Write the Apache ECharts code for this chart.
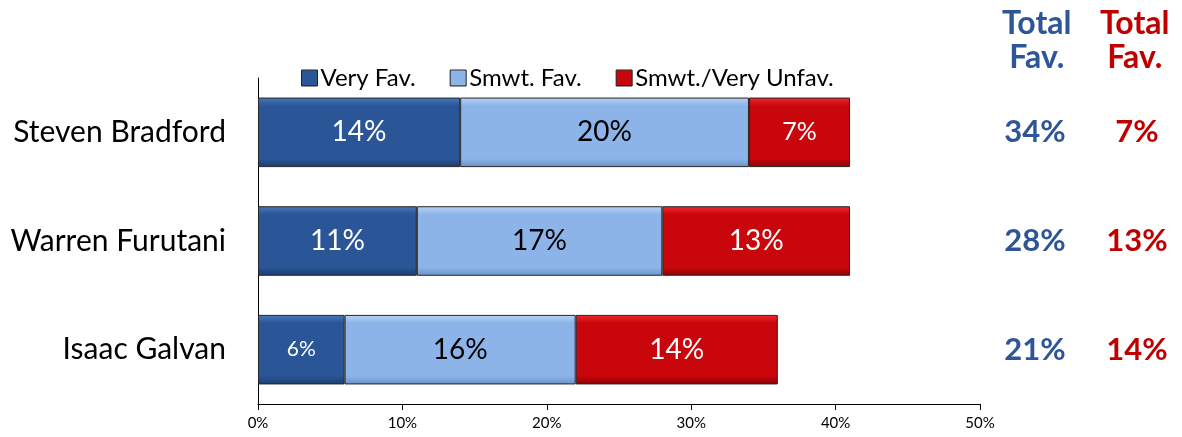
<!DOCTYPE html>
<html><head><meta charset="utf-8">
<script src="https://cdn.jsdelivr.net/npm/echarts@6/dist/echarts.min.js"></script>
<style>html,body{margin:0;padding:0;background:#fff}#c{width:1182px;height:437px}</style>
</head><body><div id="c"></div>
<script>
var categories = ['Steven Bradford', 'Warren Furutani', 'Isaac Galvan'];
var veryFav = [14, 11, 6];
var smwtFav = [20, 17, 16];
var unfav = [7, 13, 14];
var totalFav = [34, 28, 21];
var totalUnfav = [7, 13, 14];
var xTicks = [0, 10, 20, 30, 40, 50];
var seriesNames = ['Very Fav.', 'Smwt. Fav.', 'Smwt./Very Unfav.'];

var FONT = 'Lato';
function grad(top, mid, bot) {
  return new echarts.graphic.LinearGradient(0, 0, 0, 1, [
    {offset: 0, color: top}, {offset: 0.12, color: mid},
    {offset: 0.88, color: mid}, {offset: 1, color: bot}]);
}
function labelSize(v) { return v < 7 ? 21 : (v < 10 ? 25 : 28); }
function mkSeries(name, vals, fill, labelColor) {
  return {
    name: name, type: 'bar', stack: 'a', barWidth: '64%',
    itemStyle: {color: fill, borderColor: '#262626', borderWidth: 1},
    label: {show: true, position: 'inside', color: labelColor, fontFamily: FONT,
      formatter: function (p) { return p.value + '%'; },
      fontSize: 28},
    data: vals.map(function (v) {
      return {value: v, label: {fontSize: labelSize(v)}};
    })
  };
}
var chart = echarts.init(document.getElementById('c'));
chart.setOption({
  animation: false,
  textStyle: {fontFamily: FONT},
  grid: {left: 258, right: 202, top: 78, bottom: 33, containLabel: false},
  legend: {
    left: 296, top: 61, itemWidth: 16, itemHeight: 16, itemGap: 34,
    icon: 'rect',
    textStyle: {fontSize: 24, color: '#000', fontFamily: FONT, padding: [0, 0, 0, -2]},
    data: seriesNames.map(function (n) { return {name: n, itemStyle: {borderColor: '#222', borderWidth: 1}}; })
  },
  xAxis: {
    type: 'value', min: xTicks[0], max: xTicks[xTicks.length - 1], interval: 10,
    axisLine: {show: true, lineStyle: {color: '#000', width: 1}},
    axisTick: {show: true, length: 6, lineStyle: {color: '#000'}},
    splitLine: {show: false},
    axisLabel: {formatter: '{value}%', fontSize: 15, color: '#000', margin: 12, fontFamily: FONT}
  },
  yAxis: [
    {type: 'category', data: categories, inverse: true,
      axisLine: {show: true, lineStyle: {color: '#000'}}, axisTick: {show: false},
      axisLabel: {fontSize: 30, color: '#000', margin: 32, fontFamily: FONT}},
    {type: 'category', data: totalFav.map(function (v) { return v + '%'; }), inverse: true,
      position: 'right', axisLine: {show: false}, axisTick: {show: false},
      axisLabel: {fontSize: 31, fontWeight: 'bold', color: '#2E5597', align: 'center', margin: 55, fontFamily: FONT}},
    {type: 'category', data: totalUnfav.map(function (v) { return v + '%'; }), inverse: true,
      position: 'right', axisLine: {show: false}, axisTick: {show: false},
      axisLabel: {fontSize: 31, fontWeight: 'bold', color: '#C00000', align: 'center', margin: 157, fontFamily: FONT}}
  ],
  graphic: [
    {type: 'text', left: 1002, top: 7, style: {text: 'Total\nFav.', fill: '#2E5597', font: 'bold 32px ' + FONT, textAlign: 'center', lineHeight: 34}},
    {type: 'text', left: 1100, top: 7, style: {text: 'Total\nFav.', fill: '#C00000', font: 'bold 32px ' + FONT, textAlign: 'center', lineHeight: 34}}
  ],
  series: [
    mkSeries(seriesNames[0], veryFav, grad('#4a78bd', '#2A5596', '#1c3d6e'), '#fff'),
    mkSeries(seriesNames[1], smwtFav, grad('#b8d2f5', '#8DB4E8', '#6a92c8'), '#000'),
    mkSeries(seriesNames[2], unfav, grad('#ef2a2e', '#C8060C', '#8c0206'), '#fff')
  ]
});
</script></body></html>
